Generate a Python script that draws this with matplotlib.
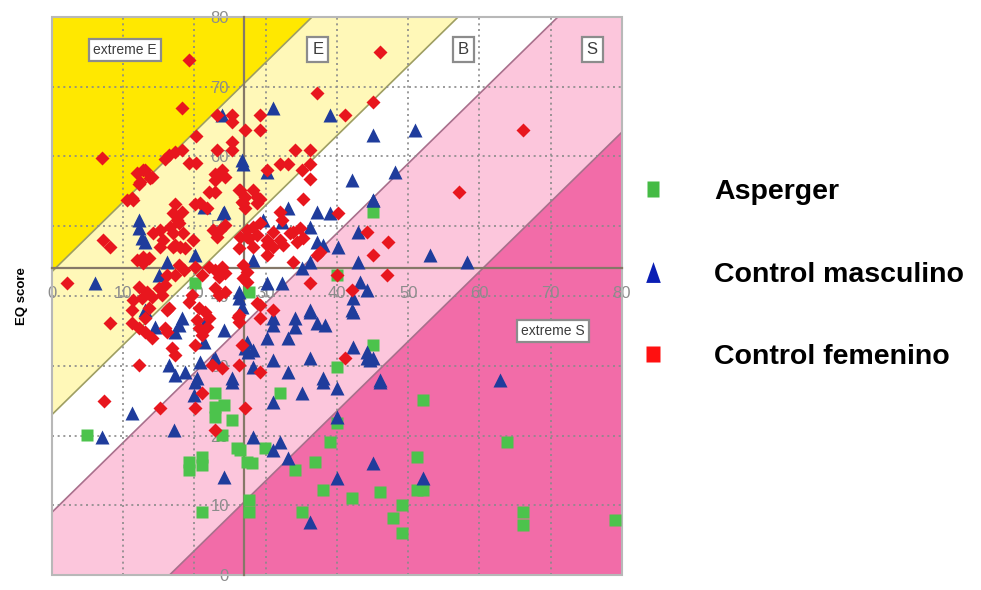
import numpy as np
import matplotlib
matplotlib.use("Agg")
from matplotlib import pyplot as plt
from matplotlib.lines import Line2D
from matplotlib.patches import Rectangle

plt.rcParams['font.family'] = ['Liberation Sans', 'DejaVu Sans']

# (SQ, EQ) scores per group
asperger = [
    (20.1, 41.9), (27.6, 40.6), (4.9, 20.1), (22.9, 26.1), (22.9, 24.1),
    (22.9, 22.7), (24.1, 24.4), (25.3, 22.2), (23.9, 20.1), (26.0, 18.2),
    (27.4, 16.2), (19.2, 16.2), (19.2, 15.1), (21.1, 16.9), (21.1, 15.8),
    (21.1, 9.0), (27.6, 10.8), (27.6, 9.0), (32.0, 26.1), (26.4, 17.9),
    (29.9, 18.2), (28.1, 16.1), (40.0, 21.8), (39.0, 19.1), (36.9, 16.2),
    (34.1, 15.1), (38.0, 12.2), (42.1, 11.0), (46.0, 11.9), (35.1, 9.0),
    (49.1, 10.0), (47.9, 8.2), (49.1, 6.0), (52.1, 25.1), (51.2, 16.9),
    (51.2, 12.2), (52.1, 12.2), (63.9, 19.1), (66.1, 9.0), (66.1, 7.2),
    (79.0, 7.9), (45.1, 52.0), (40.0, 43.0), (45.1, 33.0), (40.0, 29.8),
]

control_male = [
    (23.9, 65.9), (26.7, 59.5), (31.0, 67.0), (30.2, 57.8), (24.0, 51.9),
    (12.2, 50.9), (12.2, 49.7), (12.6, 48.3), (13.1, 47.7), (21.3, 52.8),
    (24.1, 52.0), (20.1, 45.9), (16.1, 44.9), (6.0, 41.9), (15.0, 43.0),
    (13.1, 38.0), (14.5, 35.6), (18.2, 36.8), (17.8, 35.8), (17.3, 34.8),
    (21.5, 36.3), (24.1, 35.1), (21.3, 33.4), (16.4, 30.1), (17.3, 28.7),
    (18.7, 29.1), (20.4, 28.2), (22.9, 31.1), (25.3, 28.2), (26.2, 40.6),
    (26.2, 39.7), (26.7, 38.4), (27.1, 32.5), (33.1, 52.6), (37.2, 52.0),
    (39.0, 51.9), (45.1, 53.8), (29.6, 50.9), (32.3, 50.6), (36.2, 49.9),
    (43.0, 49.2), (37.2, 47.7), (38.0, 47.3), (40.1, 47.0), (28.2, 45.2),
    (35.1, 44.0), (36.2, 44.9), (43.0, 44.9), (53.1, 45.9), (58.2, 44.9),
    (30.2, 41.9), (32.3, 41.9), (43.2, 42.0), (44.2, 40.9), (42.2, 39.7),
    (42.2, 37.7), (36.2, 37.7), (31.0, 36.8), (31.0, 35.8), (34.1, 36.8),
    (34.1, 35.6), (37.2, 36.1), (38.3, 35.8), (30.2, 34.0), (33.1, 34.0),
    (27.4, 33.4), (28.2, 32.3), (42.2, 32.7), (31.0, 30.8), (36.2, 31.1),
    (44.2, 31.1), (45.1, 31.1), (28.2, 29.8), (33.1, 29.1), (38.0, 28.2),
    (46.0, 28.0), (39.0, 65.9), (45.0, 63.1), (50.9, 63.8), (42.1, 56.6),
    (48.1, 57.8), (45.0, 53.8), (26.8, 58.9), (11.2, 23.2), (17.1, 20.8),
    (7.0, 19.8), (20.1, 27.7), (19.9, 25.8), (25.3, 27.7), (24.1, 14.1),
    (31.0, 24.8), (35.1, 26.1), (38.0, 27.7), (40.0, 26.8), (46.0, 27.7),
    (28.2, 19.8), (32.0, 19.1), (31.0, 17.9), (33.1, 16.8), (40.0, 22.7),
    (40.0, 13.9), (45.1, 16.1), (36.2, 7.6), (52.1, 13.9), (62.9, 28.0),
    (36.2, 38.0), (42.1, 38.0), (44.6, 30.8), (44.2, 32.0), (22.6, 30.8),
    (20.8, 30.5), (27.5, 32.0),
]

control_female = [
    (19.2, 73.9), (18.2, 67.0), (7.0, 59.8), (20.2, 63.0), (16.4, 60.2),
    (17.3, 60.6), (18.2, 61.0), (15.9, 59.7), (19.2, 59.1), (20.2, 59.0),
    (13.1, 58.1), (14.0, 57.1), (12.2, 56.1), (11.2, 54.0), (17.3, 53.2),
    (20.1, 53.2), (23.2, 66.0), (25.3, 66.0), (25.3, 65.0), (27.1, 63.8),
    (23.2, 60.9), (25.3, 62.1), (25.3, 60.9), (22.9, 57.5), (23.9, 58.0),
    (24.3, 57.1), (22.9, 56.6), (22.0, 54.9), (22.9, 54.9), (26.2, 55.2),
    (27.1, 54.2), (37.2, 69.1), (46.0, 75.0), (41.1, 65.9), (45.0, 67.8),
    (29.2, 65.9), (29.2, 63.8), (34.1, 60.9), (36.2, 60.9), (32.0, 58.9),
    (33.1, 58.9), (36.2, 58.9), (35.1, 58.1), (36.2, 56.8), (35.2, 53.9),
    (30.2, 58.1), (28.2, 55.2), (29.2, 53.9), (26.4, 55.2), (28.8, 54.2),
    (26.8, 53.3), (28.8, 53.3), (20.8, 53.3), (21.8, 52.6), (11.9, 57.6),
    (12.8, 58.1), (13.8, 56.9), (12.4, 56.3), (11.4, 53.8), (10.5, 53.8),
    (17.0, 51.9), (17.5, 50.9), (16.6, 49.9), (15.2, 49.5), (14.2, 49.0),
    (15.6, 48.0), (17.0, 49.0), (18.4, 49.0), (17.0, 47.0), (15.2, 47.0),
    (18.0, 47.0), (19.8, 48.0), (22.6, 49.5), (23.6, 49.5), (23.2, 48.5),
    (24.3, 50.2), (27.4, 49.5), (28.2, 49.9), (29.2, 50.5), (26.4, 48.5),
    (27.4, 48.5), (28.2, 47.0), (30.2, 48.0), (31.0, 47.0), (32.0, 48.0),
    (33.4, 49.0), (7.2, 48.0), (8.1, 47.0), (12.8, 45.6), (12.8, 44.7),
    (11.9, 45.2), (13.6, 45.4), (18.2, 52.0), (26.7, 53.5), (27.1, 52.6),
    (17.8, 50.5), (17.3, 47.3), (18.7, 46.9), (26.2, 46.9), (27.6, 48.3),
    (32.0, 52.0), (32.3, 50.9), (40.1, 51.9), (28.8, 48.7), (31.0, 49.2),
    (32.4, 47.3), (33.8, 49.2), (34.8, 49.7), (35.2, 48.3), (34.4, 47.7),
    (30.2, 47.3), (30.2, 45.9), (37.2, 45.9), (37.6, 46.3), (26.8, 44.4),
    (27.4, 43.4), (26.8, 42.6), (27.4, 42.0), (33.8, 44.9), (36.2, 41.9),
    (40.0, 43.0), (42.1, 40.9), (44.2, 49.2), (45.1, 45.9), (47.2, 47.7),
    (47.0, 43.0), (57.1, 54.9), (66.1, 63.8), (29.2, 38.7), (31.0, 38.0),
    (29.2, 36.8), (29.2, 29.1), (41.1, 31.1), (2.1, 41.9), (12.2, 41.3),
    (13.3, 40.6), (14.0, 39.9), (15.0, 41.1), (15.9, 41.6), (15.4, 40.1),
    (12.6, 39.7), (11.2, 38.0), (13.6, 38.3), (13.1, 36.8), (11.2, 36.1),
    (12.2, 35.4), (13.1, 34.8), (14.0, 34.0), (8.1, 36.1), (16.1, 43.0),
    (17.3, 43.0), (17.8, 44.4), (18.5, 43.7), (20.1, 44.2), (21.1, 43.0),
    (22.0, 44.2), (22.9, 43.7), (23.9, 44.2), (24.3, 43.3), (23.4, 42.7),
    (19.2, 39.1), (19.6, 40.1), (16.4, 38.3), (15.9, 35.4), (20.6, 38.3),
    (21.5, 37.7), (22.0, 36.8), (22.9, 41.1), (23.4, 40.1), (24.3, 40.6),
    (20.6, 35.4), (21.1, 34.4), (20.1, 33.0), (16.8, 32.5), (17.3, 31.5),
    (12.2, 30.1), (26.2, 37.3), (26.2, 36.3), (22.5, 30.1), (23.9, 29.7),
    (26.2, 30.1), (26.7, 33.0), (7.3, 25.0), (15.2, 23.9), (20.1, 23.9),
    (21.1, 26.1), (27.1, 23.9), (22.9, 20.8), (28.8, 39.0), (26.1, 37.0),
    (21.8, 35.6), (20.4, 36.6), (11.4, 39.4), (16.1, 38.0), (16.1, 34.8),
]

ticks = [0, 10, 20, 30, 40, 50, 60, 70, 80]
sq_mean, eq_mean = 27, 44

# brain-type regions: (EQ - SQ) offset of lower edge, upper edge, colour
bands = [
    (43.5, 200, '#ffe800'),
    (23, 43.5, '#fff8b8'),
    (9, 23, '#ffffff'),
    (-16.5, 9, '#fcc6dc'),
    (-200, -16.5, '#f26ca8'),
]
region_labels = [('extreme E', 10.2, 75.3), ('E', 37.3, 75.3),
                 ('B', 57.7, 75.3), ('S', 75.8, 75.3),
                 ('extreme S', 70.3, 35.0)]

c_green = '#4cc34c'
c_blue = '#1f3c9c'
c_red = '#e8161e'

fig = plt.figure(figsize=(9.81, 5.90), dpi=100)
ax = fig.add_axes([0.053, 0.0254, 0.581, 0.9458])
ax.set_xlim(0, 80)
ax.set_ylim(0, 80)

xs = np.array([0, 80])
for lo, hi, col in bands:
    ax.fill_between(xs, xs + lo, xs + hi, color=col, lw=0, zorder=0)
for lo, hi, col in bands[1:]:
    edge = '#9e9e62' if hi > 10 else '#a8708c'
    ax.plot(xs, xs + hi, color=edge, lw=1.2, zorder=0.5)

for t in ticks[1:-1]:
    ax.axvline(t, color='#8a8a8a', lw=1.2, ls=(0, (1.2, 2.2)), zorder=1)
    ax.axhline(t, color='#8a8a8a', lw=1.2, ls=(0, (1.2, 2.2)), zorder=1)

# axes cross at the group means
for side in ['top', 'right']:
    ax.spines[side].set_visible(False)
ax.spines['left'].set_position(('data', sq_mean))
ax.spines['bottom'].set_position(('data', eq_mean))
for side in ['left', 'bottom']:
    ax.spines[side].set_color('#857868')
    ax.spines[side].set_linewidth(1.6)
ax.add_patch(Rectangle((0, 0), 1, 1, transform=ax.transAxes, fill=False,
                       edgecolor='#b8b8b8', lw=1.5, clip_on=False, zorder=2))

ax.set_xticks(ticks)
ax.set_yticks(ticks)
ax.tick_params(axis='x', length=0, pad=13, colors='#8c8c8c', labelsize=12)
ax.tick_params(axis='y', length=0, pad=11, colors='#8c8c8c', labelsize=12)

ax.set_ylabel('EQ score', fontsize=9.5, fontweight='bold')
ax.yaxis.set_label_coords(-0.042, 0.5)

for txt, x, y in region_labels:
    fs = 10 if len(txt) > 1 else 12
    ax.text(x, y, txt, fontsize=fs, color='#3c3c3c', ha='center', va='center',
            zorder=2,
            bbox=dict(boxstyle='square,pad=0.3', fc='white', ec='#8c8c8c',
                      lw=1.6))

g = np.array(asperger).T
m = np.array(control_male).T
f = np.array(control_female).T
ax.plot(g[0], g[1], 's', ms=8.3, color=c_green, mec='none', zorder=3)
ax.plot(m[0], m[1], '^', ms=9.8, color=c_blue, mec='none', zorder=3)
ax.plot(f[0], f[1], 'D', ms=6.8, color=c_red, mec='none', zorder=3)

# legend, drawn with the marker shapes of the key
tall_sq = [(-0.4, -0.5), (0.4, -0.5), (0.4, 0.5), (-0.4, 0.5)]
tall_tri = [(-0.35, -0.5), (0.35, -0.5), (0, 0.5)]
handles = [
    Line2D([], [], ls='none', marker=tall_sq, ms=11, color='#45bb45',
           mec='none'),
    Line2D([], [], ls='none', marker=tall_tri, ms=15, color='#0a1eb4',
           mec='none'),
    Line2D([], [], ls='none', marker=tall_sq, ms=12, color='#ff1010',
           mec='none'),
]
fig.legend(handles, ['Asperger', 'Control masculino', 'Control femenino'],
           loc='upper left', bbox_to_anchor=(0.651, 0.696), frameon=False,
           prop={'size': 20.5, 'weight': 'bold'}, borderpad=0,
           borderaxespad=0, handlelength=1.0, handletextpad=1.66,
           labelspacing=1.98)

fig.savefig('out.png', dpi=100)
